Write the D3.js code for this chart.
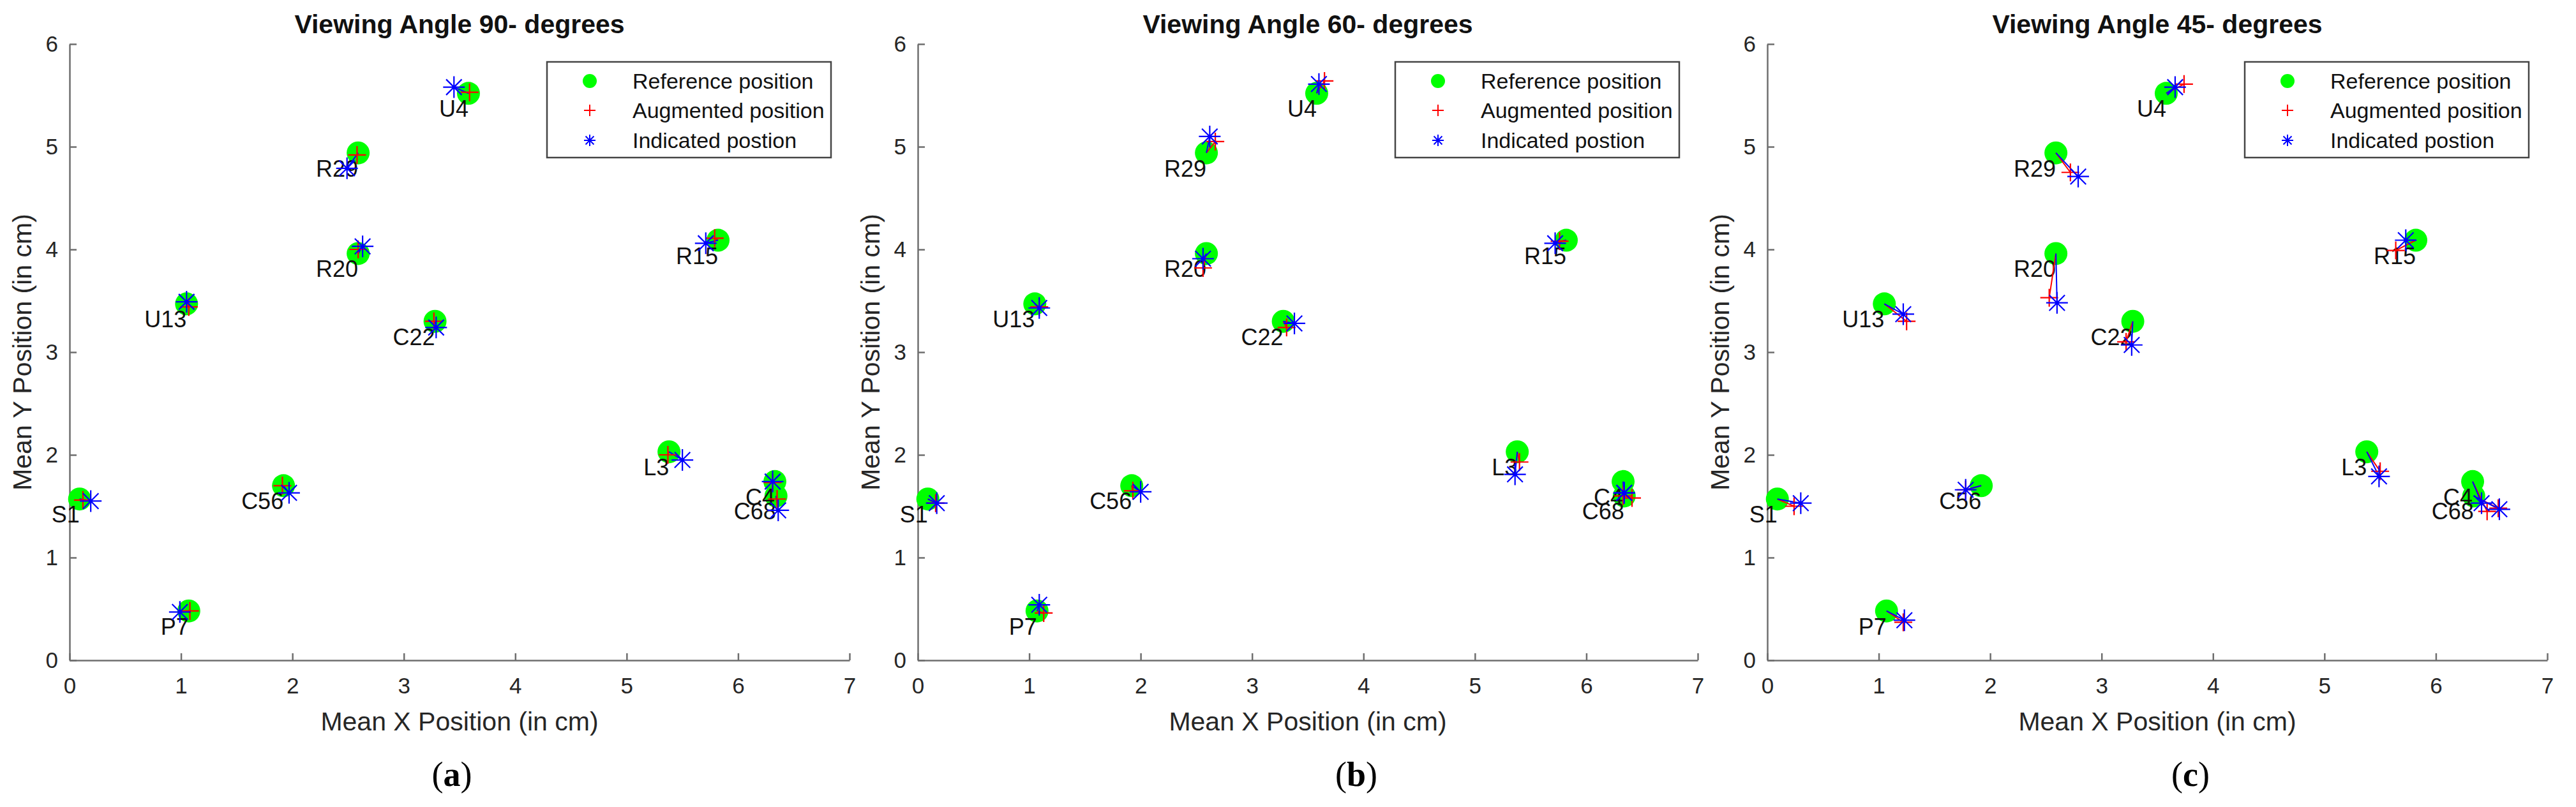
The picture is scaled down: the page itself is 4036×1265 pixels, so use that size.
<!DOCTYPE html>
<html>
<head>
<meta charset="utf-8">
<script src="https://cdn.jsdelivr.net/npm/d3@7"></script>
<style>
  html, body { margin: 0; padding: 0; background: #fff; }
  svg { display: block; }
</style>
</head>
<body>
<div id="chart"></div>
<script>
// Three MATLAB-style scatter panels: reference vs augmented vs indicated positions.

const LABELS = ['S1', 'P7', 'C56', 'U13', 'R20', 'R29', 'U4', 'C22', 'L3', 'R15', 'C4', 'C68'];

// reference positions (same for every viewing angle)
const REF_X = [0.09, 1.07, 1.92, 1.05, 2.59, 2.59, 3.58, 3.28, 5.38, 5.82, 6.33, 6.34];
const REF_Y = [1.57, 0.48, 1.70, 3.47, 3.96, 4.94, 5.52, 3.30, 2.03, 4.09, 1.74, 1.60];

// 90 degrees
const AUG90_X = [0.12, 1.08, 1.91, 1.07, 2.59, 2.58, 3.59, 3.27, 5.37, 5.79, 6.31, 6.35];
const AUG90_Y = [1.56, 0.48, 1.70, 3.44, 4.00, 4.92, 5.53, 3.30, 2.00, 4.11, 1.73, 1.57];
const IND90_X = [0.19, 0.99, 1.97, 1.05, 2.63, 2.49, 3.45, 3.29, 5.50, 5.71, 6.31, 6.36];
const IND90_Y = [1.55, 0.47, 1.63, 3.49, 4.03, 4.79, 5.58, 3.24, 1.95, 4.06, 1.74, 1.46];

// 60 degrees
const AUG60_X = [0.16, 1.13, 1.93, 1.09, 2.56, 2.67, 3.65, 3.31, 5.40, 5.76, 6.33, 6.41];
const AUG60_Y = [1.53, 0.46, 1.65, 3.44, 3.82, 5.05, 5.64, 3.24, 1.93, 4.08, 1.60, 1.58];
const IND60_X = [0.17, 1.09, 2.00, 1.09, 2.56, 2.62, 3.60, 3.38, 5.36, 5.72, 6.34, 6.34];
const IND60_Y = [1.53, 0.54, 1.64, 3.43, 3.91, 5.10, 5.61, 3.28, 1.81, 4.06, 1.63, 1.63];

// 45 degrees
const AUG45_X = [0.24, 1.22, 1.78, 1.25, 2.53, 2.72, 3.74, 3.22, 5.50, 5.64, 6.46, 6.56];
const AUG45_Y = [1.50, 0.37, 1.66, 3.30, 3.53, 4.75, 5.61, 3.10, 1.84, 3.99, 1.45, 1.48];
const IND45_X = [0.30, 1.23, 1.78, 1.22, 2.60, 2.79, 3.66, 3.27, 5.49, 5.73, 6.41, 6.57];
const IND45_Y = [1.53, 0.39, 1.66, 3.37, 3.48, 4.71, 5.58, 3.07, 1.79, 4.09, 1.53, 1.47];

const TITLES = ['Viewing Angle 90- degrees', 'Viewing Angle 60- degrees', 'Viewing Angle 45- degrees'];
const TAGS = ['a', 'b', 'c'];
const LEGEND_NAMES = ['Reference position', 'Augmented position', 'Indicated postion'];
const X_TICKS = [0, 1, 2, 3, 4, 5, 6, 7];
const Y_TICKS = [0, 1, 2, 3, 4, 5, 6];
const X_LABEL = 'Mean X Position (in cm)';
const Y_LABEL = 'Mean Y Position (in cm)';

const GREEN = '#00ff00', RED = '#ff0000', BLUE = '#0000ff';
const AXIS_GREY = '#6e6e6e';
const FONT = '"Liberation Sans", Arial, Helvetica, sans-serif';

const W = 4036, H = 1265;
const PANEL_LEFT = [109, 1438, 2769];
const PANEL_W = 1222;
const TAG_X = [708, 2125, 3432];
const Y_TOP = 69, Y_BOT = 1035;

const panels = [
  { augX: AUG90_X, augY: AUG90_Y, indX: IND90_X, indY: IND90_Y },
  { augX: AUG60_X, augY: AUG60_Y, indX: IND60_X, indY: IND60_Y },
  { augX: AUG45_X, augY: AUG45_Y, indX: IND45_X, indY: IND45_Y }
];

const svg = d3.select('#chart').append('svg')
  .attr('width', W).attr('height', H)
  .attr('viewBox', `0 0 ${W} ${H}`)
  .style('background', '#fff');

// marker paths
const plusPath = s => `M${-s},0H${s}M0,${-s}V${s}`;
function starPath(s) {
  const d = s * 0.72;
  return `M${-s},0H${s}M0,${-s}V${s}M${-d},${-d}L${d},${d}M${-d},${d}L${d},${-d}`;
}

panels.forEach((p, i) => {
  const left = PANEL_LEFT[i];
  const x = d3.scaleLinear().domain([0, 7]).range([left, left + PANEL_W]);
  const y = d3.scaleLinear().domain([0, 6]).range([Y_BOT, Y_TOP]);
  const g = svg.append('g').attr('class', 'panel');

  // axes (MATLAB style: box off, ticks pointing inward)
  const xAxisG = g.append('g')
    .attr('transform', `translate(0,${y(0)})`)
    .call(d3.axisBottom(x).tickValues(X_TICKS).tickFormat(d3.format('d'))
      .tickSizeInner(-11).tickSizeOuter(0).tickPadding(27));
  const yAxisG = g.append('g')
    .attr('transform', `translate(${x(0)},0)`)
    .call(d3.axisLeft(y).tickValues(Y_TICKS).tickFormat(d3.format('d'))
      .tickSizeInner(-11).tickSizeOuter(0).tickPadding(18));
  [xAxisG, yAxisG].forEach(a => {
    a.attr('font-size', 35).attr('font-family', FONT);
    a.select('.domain').attr('stroke', AXIS_GREY).attr('stroke-width', 2.5);
    a.selectAll('.tick line').attr('stroke', AXIS_GREY).attr('stroke-width', 2.5);
    a.selectAll('.tick text').attr('fill', '#262626');
  });

  // titles and axis labels
  const cx = (x(0) + x(7)) / 2;
  g.append('text')
    .attr('x', cx).attr('y', 52).attr('text-anchor', 'middle')
    .attr('font-family', FONT).attr('font-size', 41).attr('font-weight', 'bold')
    .attr('fill', '#111').text(TITLES[i]);
  g.append('text')
    .attr('x', cx).attr('y', 1145).attr('text-anchor', 'middle')
    .attr('font-family', FONT).attr('font-size', 41).attr('fill', '#262626')
    .text(X_LABEL);
  g.append('text')
    .attr('transform', `translate(${x(0) - 60},${(Y_TOP + Y_BOT) / 2}) rotate(-90)`)
    .attr('text-anchor', 'middle')
    .attr('font-family', FONT).attr('font-size', 41).attr('fill', '#262626')
    .text(Y_LABEL);

  // subfigure tag "(a)"
  const tag = g.append('text')
    .attr('x', TAG_X[i]).attr('y', 1232).attr('text-anchor', 'middle')
    .attr('font-family', '"Liberation Serif", "Times New Roman", serif')
    .attr('font-size', 54).attr('fill', '#000');
  tag.append('tspan').text('(');
  tag.append('tspan').attr('font-weight', 'bold').text(TAGS[i]);
  tag.append('tspan').text(')');

  const idx = d3.range(LABELS.length);

  // reference dots
  g.append('g').selectAll('circle').data(idx).join('circle')
    .attr('cx', k => x(REF_X[k])).attr('cy', k => y(REF_Y[k]))
    .attr('r', 18).attr('fill', GREEN);

  // point labels, over the dots
  g.append('g').selectAll('text').data(idx).join('text')
    .attr('x', k => x(REF_X[k]))
    .attr('y', k => y(REF_Y[k]) + 37)
    .attr('text-anchor', 'end')
    .attr('font-family', FONT).attr('font-size', 36).attr('fill', '#111')
    .text(k => LABELS[k]);

  // offset lines ref -> augmented (red), ref -> indicated (blue)
  g.append('g').selectAll('line').data(idx).join('line')
    .attr('x1', k => x(REF_X[k])).attr('y1', k => y(REF_Y[k]))
    .attr('x2', k => x(p.augX[k])).attr('y2', k => y(p.augY[k]))
    .attr('stroke', RED).attr('stroke-width', 2);
  g.append('g').selectAll('line').data(idx).join('line')
    .attr('x1', k => x(REF_X[k])).attr('y1', k => y(REF_Y[k]))
    .attr('x2', k => x(p.indX[k])).attr('y2', k => y(p.indY[k]))
    .attr('stroke', BLUE).attr('stroke-width', 2);

  // augmented "+" markers
  g.append('g').selectAll('path').data(idx).join('path')
    .attr('transform', k => `translate(${x(p.augX[k])},${y(p.augY[k])})`)
    .attr('d', plusPath(14))
    .attr('fill', 'none').attr('stroke', RED).attr('stroke-width', 2.2);

  // indicated "*" markers
  g.append('g').selectAll('path').data(idx).join('path')
    .attr('transform', k => `translate(${x(p.indX[k])},${y(p.indY[k])})`)
    .attr('d', starPath(17))
    .attr('fill', 'none').attr('stroke', BLUE).attr('stroke-width', 2.2);
  g.append('g').selectAll('circle').data(idx).join('circle')
    .attr('cx', k => x(p.indX[k])).attr('cy', k => y(p.indY[k]))
    .attr('r', 3).attr('fill', BLUE);

  // legend
  const lgW = 445, lgH = 150;
  const lg = g.append('g')
    .attr('transform', `translate(${x(7) - 29 - lgW},${97})`);
  lg.append('rect').attr('width', lgW).attr('height', lgH)
    .attr('fill', '#fff').attr('stroke', '#444').attr('stroke-width', 2.5);
  const rowY = [30, 76, 123];
  LEGEND_NAMES.forEach((name, r) => {
    const row = lg.append('g').attr('transform', `translate(0,${rowY[r]})`);
    if (r === 0) {
      row.append('circle').attr('cx', 67).attr('cy', 0).attr('r', 11).attr('fill', GREEN);
    } else if (r === 1) {
      row.append('path').attr('transform', 'translate(67,0)').attr('d', plusPath(9))
        .attr('fill', 'none').attr('stroke', RED).attr('stroke-width', 2);
    } else {
      row.append('path').attr('transform', 'translate(67,0)').attr('d', starPath(9))
        .attr('fill', 'none').attr('stroke', BLUE).attr('stroke-width', 2);
    }
    row.append('text').attr('x', 134).attr('y', 12)
      .attr('font-family', FONT).attr('font-size', 34).attr('fill', '#111')
      .text(name);
  });
});
</script>
</body>
</html>
